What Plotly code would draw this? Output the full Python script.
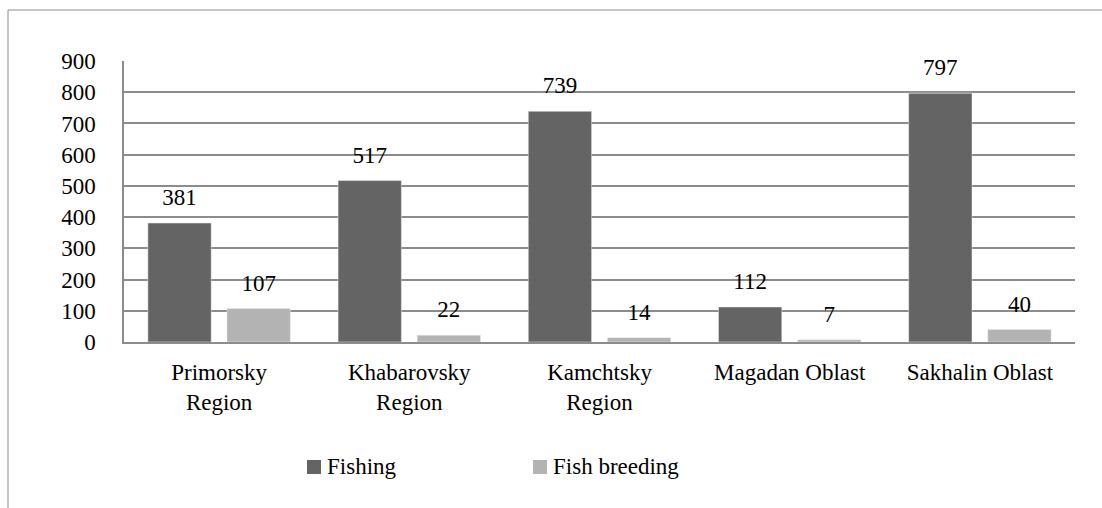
import plotly.graph_objects as go

regions = ["Primorsky<br>Region", "Khabarovsky<br>Region", "Kamchtsky<br>Region",
           "Magadan Oblast", "Sakhalin Oblast"]
fishing = [381, 517, 739, 112, 797]
fish_breeding = [107, 22, 14, 7, 40]
y_ticks = [0, 100, 200, 300, 400, 500, 600, 700, 800, 900]

FONT = "Liberation Serif"
GRID = "#8c8c8c"
DARK = "#646464"
LIGHT = "#b3b3b3"

# plot area in pixels, used to place the frame and legend in paper units
L, R, T, B = 124, 1075, 61, 342


def px(x):
    return (x - L) / (R - L)


def py(y):
    return (B - y) / (B - T)


fig = go.Figure()

# bars
for name, vals, color in [("Fishing", fishing, DARK), ("Fish breeding", fish_breeding, LIGHT)]:
    fig.add_trace(go.Bar(
        x=regions, y=vals, name=name, offsetgroup=name,
        marker=dict(color=color), showlegend=False,
    ))

# value labels, lifted a little above the bars by an invisible marker
for name, vals in [("Fishing", fishing), ("Fish breeding", fish_breeding)]:
    fig.add_trace(go.Scatter(
        x=regions, y=vals, offsetgroup=name, mode="markers+text",
        text=[str(v) for v in vals], textposition="top center",
        textfont=dict(size=23, color="black", family=FONT),
        marker=dict(size=18, opacity=0), cliponaxis=False,
        showlegend=False, hoverinfo="skip",
    ))

# Excel-style legend: small square + label
legend_items = [("Fishing", DARK, 307), ("Fish breeding", LIGHT, 533)]
annotations = []
shapes = [
    dict(type="line", xref="paper", yref="paper", x0=px(8), x1=px(1110),
         y0=py(10), y1=py(10), line=dict(color=GRID, width=1)),
    dict(type="line", xref="paper", yref="paper", x0=px(8), x1=px(8),
         y0=py(10), y1=py(520), line=dict(color=GRID, width=1)),
]
for label, color, lx in legend_items:
    shapes.append(dict(type="rect", xref="paper", yref="paper",
                       x0=px(lx), x1=px(lx + 14), y0=py(460), y1=py(474),
                       fillcolor=color, line=dict(width=0)))
    annotations.append(dict(
        xref="paper", yref="paper", x=px(lx + 18), y=py(466),
        xanchor="left", yanchor="middle", showarrow=False, text=label,
        font=dict(size=23, family=FONT, color="black"),
    ))

fig.update_layout(
    width=1102, height=508,
    margin=dict(l=L, r=1102 - R, t=T, b=508 - B),
    paper_bgcolor="white", plot_bgcolor="white",
    font=dict(family=FONT, size=23, color="black"),
    barmode="group", bargap=0.168, bargroupgap=0.2,
    scattermode="group", scattergap=0.168,
    showlegend=False,
    annotations=annotations,
    shapes=shapes,
)

fig.update_xaxes(showline=True, linecolor=GRID, linewidth=2, showgrid=False,
                 ticks="", tickfont=dict(size=23, family=FONT), tickangle=0,
                 ticklabelstandoff=8)
fig.update_yaxes(range=[0, 900], tickvals=y_ticks, showgrid=True, gridcolor=GRID,
                 gridwidth=1.5, showline=True, linecolor=GRID, linewidth=1.5,
                 zeroline=False, ticks="", ticklabelstandoff=22,
                 tickfont=dict(size=23, family=FONT))

fig.write_html("out.html", config={"displayModeBar": False},
               post_script="document.body.style.margin='0';")
